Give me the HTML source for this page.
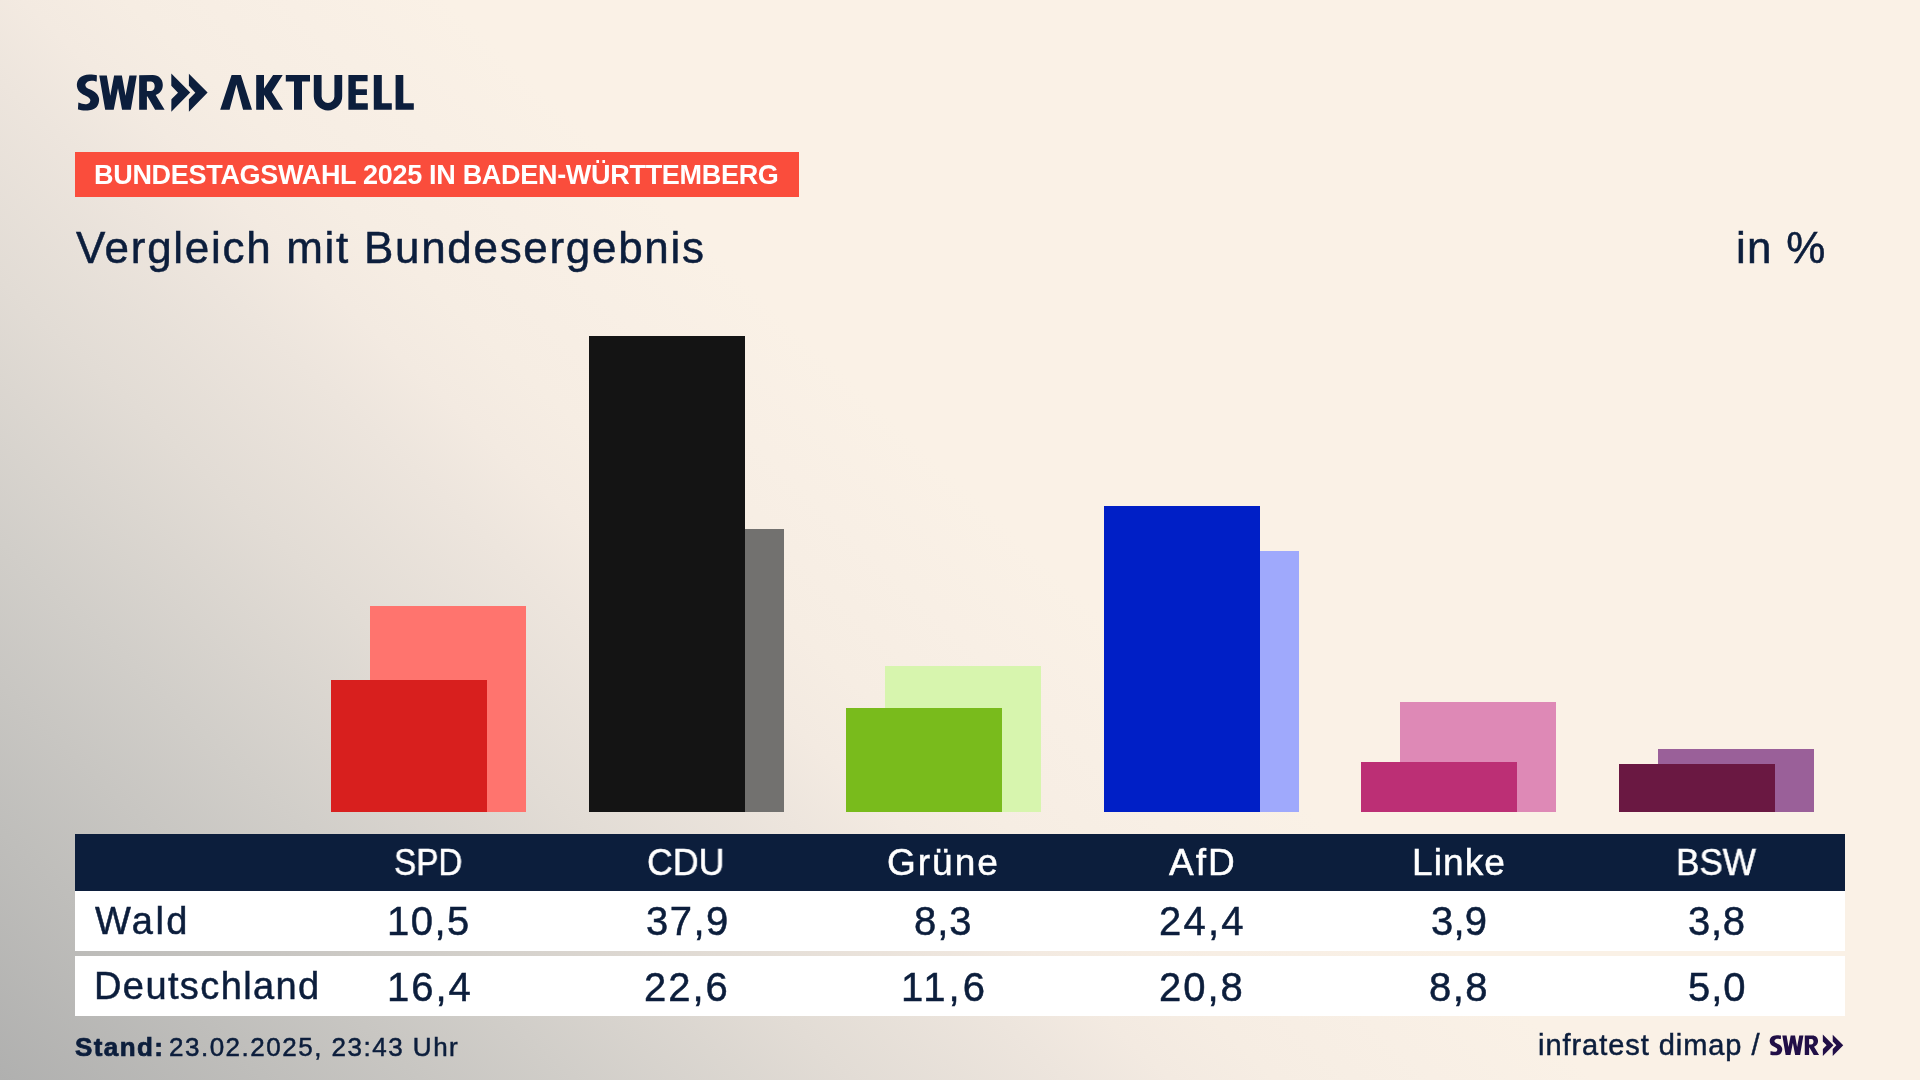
<!DOCTYPE html>
<html lang="de">
<head>
<meta charset="utf-8">
<title>Vergleich mit Bundesergebnis</title>
<style>
html,body{margin:0;padding:0;}
body{width:1920px;height:1080px;overflow:hidden;position:relative;background:#faf1e6;font-family:"Liberation Sans",sans-serif;color:#0c1e3c;}
#bg{position:absolute;left:0;top:0;width:1920px;height:1080px;background:linear-gradient(43.2deg,#b0b0af 0%,#bfbebb 8.67%,#d1cec9 18.73%,#e2dcd5 27.75%,#ede5dd 34.7%,#f3eae1 38.16%,#f6ede3 41.6%,#f8efe5 46.8%,#faf1e6 52%);}
.abs{position:absolute;}
.t{position:absolute;white-space:nowrap;-webkit-text-stroke:0.5px;will-change:transform;}
#bannertxt{-webkit-text-stroke:0;}
#banner{left:75px;top:152px;width:724px;height:45px;background:#fa4d3c;}
.bar{position:absolute;width:156px;}
#thead{left:75px;top:834px;width:1770px;height:57px;background:#0c1e3c;}
.row{position:absolute;left:75px;width:1770px;height:60px;background:#fff;}
</style>
</head>
<body>
<div id="bg"></div>
<svg class="abs" style="left:0;top:0" width="1920" height="1080" viewBox="0 0 1920 1080">
<defs>
<g id="swr">
<path d="M96.89,75.30 L96.69,81.61 C95.90,81.48 93.46,80.83 92.00,80.80 C90.54,80.76 88.98,80.90 87.93,81.41 C86.87,81.92 86.09,83.14 85.69,83.85 C85.28,84.57 85.24,85.01 85.48,85.69 C85.72,86.36 85.89,87.08 87.11,87.93 C88.33,88.78 91.19,89.76 92.82,90.78 C94.44,91.80 95.86,92.75 96.89,94.04 C97.92,95.33 98.74,96.96 99.01,98.52 C99.28,100.08 99.01,101.91 98.52,103.41 C98.03,104.90 97.16,106.43 96.07,107.48 C94.99,108.53 93.63,109.23 92.00,109.72 C90.37,110.21 88.06,110.35 86.30,110.42 C84.53,110.48 82.80,110.28 81.41,110.13 C80.02,109.98 78.52,109.62 77.94,109.52 L78.35,102.59 C79.00,102.80 80.90,103.56 82.22,103.82 C83.55,104.07 85.14,104.28 86.30,104.14 C87.45,104.01 88.47,103.60 89.15,103.00 C89.83,102.40 90.30,101.30 90.37,100.56 C90.44,99.81 90.10,99.20 89.56,98.52 C89.01,97.84 88.33,97.23 87.11,96.48 C85.89,95.74 83.65,94.99 82.22,94.04 C80.80,93.09 79.44,92.07 78.56,90.78 C77.67,89.49 77.13,87.79 76.93,86.30 C76.72,84.80 76.86,83.24 77.33,81.82 C77.81,80.39 78.69,78.79 79.78,77.74 C80.86,76.69 82.22,76.02 83.85,75.50 C85.48,74.98 87.38,74.64 89.56,74.60 C91.73,74.57 95.67,75.18 96.89,75.30 Z"/>
<polygon points="99.26,75.4 106.8,75.4 110.26,95.67 114.13,75.4 121.87,75.4 125.54,95.67 129.4,75.4 136.74,75.4 130.83,109.75 122.07,109.75 118,88.33 113.72,109.75 105.17,109.75"/>
<path fill-rule="evenodd" d="M139.17,75.3 L152.8,75.1 C158.6,75.1 162.8,79 162.8,85 C162.8,90 160,93.3 155.7,95.1 L164.6,109.75 L155.1,109.75 L147.5,96.5 L146.9,96.5 L146.9,109.75 L139.17,109.75 Z M146.9,81.6 L151,81.6 C153.5,81.6 154.7,83.8 154.7,86.3 C154.7,89 153,91.1 150.5,91.1 L146.9,91.1 Z"/>
<polygon points="171.3,73.5 190.2,92.45 171.3,111.8 171.4,99.3 178,92.65 171.3,85.8"/>
<polygon points="188.9,73.7 207.6,92.45 188.9,111.8 188.9,99.3 195.3,92.65 188.9,85.8"/>
</g>
</defs>
<g fill="#0c1e3c">
<use href="#swr"/>
<polygon points="231.6,75 240.9,75 252,109.8 243.1,109.8 236.4,84.5 229.6,109.8 220.2,109.8"/>
<polygon points="256.2,75 264,75 264,88.4 273.1,75 282.7,75 271.8,92 283.1,109.8 273.6,109.8 264,94.7 264,109.8 256.2,109.8"/>
<polygon points="285.8,75 310,75 310,81.6 302,81.6 302,109.8 294,109.8 294,81.6 285.8,81.6"/>
<path d="M313.8,75 h7.8 v21.5 a6.4,6.4 0 0 0 12.8,0 v-21.5 h7.8 v21.2 a14.2,14.2 0 0 1 -28.4,0 z"/>
<polygon points="348.4,75 367.6,75 367.6,81.3 355.8,81.3 355.8,89.3 366.9,89.3 366.9,95.1 355.8,95.1 355.8,103.3 367.8,103.3 367.8,109.8 348.4,109.8"/>
<polygon points="373.8,75 381.8,75 381.8,103.3 391.8,103.3 391.8,109.8 373.8,109.8"/>
<polygon points="395.6,75 403.3,75 403.3,103.3 413.8,103.3 413.8,109.8 395.6,109.8"/>
</g>
<g fill="#210f47" transform="translate(1726.5,993.2) scale(0.5624)"><use href="#swr"/></g>
</svg>
<div id="banner" class="abs"></div>
<div class="bar" style="left:370px;top:606px;height:206px;background:#ff746e"></div>
<div class="bar" style="left:331px;top:680px;height:132px;background:#d81f1e"></div>
<div class="bar" style="left:628px;top:529px;height:283px;background:#72716f"></div>
<div class="bar" style="left:589px;top:336px;height:476px;background:#141414"></div>
<div class="bar" style="left:885px;top:666px;height:146px;background:#d7f5ae"></div>
<div class="bar" style="left:846px;top:708px;height:104px;background:#79bb1c"></div>
<div class="bar" style="left:1143px;top:551px;height:261px;background:#9fa9fc"></div>
<div class="bar" style="left:1104px;top:506px;height:306px;background:#001fc6"></div>
<div class="bar" style="left:1400px;top:702px;height:110px;background:#de89b6"></div>
<div class="bar" style="left:1361px;top:762px;height:50px;background:#bc2f75"></div>
<div class="bar" style="left:1658px;top:749px;height:63px;background:#9a6099"></div>
<div class="bar" style="left:1619px;top:764px;height:48px;background:#6a1842"></div>

<div id="thead" class="abs"></div>
<div class="row" style="top:891px"></div>
<div class="row" style="top:956px"></div>
<div class="t" id="bannertxt" style="left:94.2px;top:157.64px;font-size:27px;line-height:35px;letter-spacing:-0.3px;color:#fff;font-weight:bold;">BUNDESTAGSWAHL 2025 IN BADEN-WÜRTTEMBERG</div>
<div class="t" id="title" style="left:76px;top:222.45px;font-size:44px;line-height:52px;letter-spacing:1.7px;">Vergleich mit Bundesergebnis</div>
<div class="t" id="unit" style="left:1736px;top:222.45px;font-size:44px;line-height:52px;letter-spacing:1.3px;">in %</div>
<div class="t" id="h1" style="left:394.1px;top:840.38px;font-size:37px;line-height:45px;letter-spacing:0px;color:#fff;transform:scaleX(0.9);transform-origin:0 0;">SPD</div>
<div class="t" id="h2" style="left:646.9px;top:840.38px;font-size:37px;line-height:45px;letter-spacing:0px;color:#fff;transform:scaleX(0.965);transform-origin:0 0;">CDU</div>
<div class="t" id="h3" style="left:887px;top:840.38px;font-size:37px;line-height:45px;letter-spacing:2px;color:#fff;">Grüne</div>
<div class="t" id="h4" style="left:1169px;top:840.38px;font-size:37px;line-height:45px;letter-spacing:2px;color:#fff;">AfD</div>
<div class="t" id="h5" style="left:1412px;top:840.38px;font-size:37px;line-height:45px;letter-spacing:1.1px;color:#fff;">Linke</div>
<div class="t" id="h6" style="left:1676px;top:840.38px;font-size:37px;line-height:45px;letter-spacing:0px;color:#fff;transform:scaleX(0.948);transform-origin:0 0;">BSW</div>
<div class="t" id="r1" style="left:95px;top:897.53px;font-size:38px;line-height:46px;letter-spacing:2.4px;">Wald</div>
<div class="t" id="r2" style="left:93.5px;top:963.33px;font-size:38px;line-height:46px;letter-spacing:1.4px;">Deutschland</div>
<div class="t" id="a1" style="left:386.8px;top:897.04px;font-size:40px;line-height:48px;letter-spacing:1.5px;">10,5</div>
<div class="t" id="a2" style="left:645.6px;top:897.04px;font-size:40px;line-height:48px;letter-spacing:1.5px;">37,9</div>
<div class="t" id="a3" style="left:914.25px;top:897.04px;font-size:40px;line-height:48px;letter-spacing:1.0px;">8,3</div>
<div class="t" id="a4" style="left:1159.3px;top:897.04px;font-size:40px;line-height:48px;letter-spacing:2.2px;">24,4</div>
<div class="t" id="a5" style="left:1431.2px;top:897.04px;font-size:40px;line-height:48px;letter-spacing:0.2px;">3,9</div>
<div class="t" id="a6" style="left:1688.1px;top:897.04px;font-size:40px;line-height:48px;letter-spacing:0.7px;">3,8</div>
<div class="t" id="b1" style="left:386.8px;top:962.94px;font-size:40px;line-height:48px;letter-spacing:2px;">16,4</div>
<div class="t" id="b2" style="left:644px;top:962.94px;font-size:40px;line-height:48px;letter-spacing:2px;">22,6</div>
<div class="t" id="b3" style="left:901.4px;top:962.94px;font-size:40px;line-height:48px;letter-spacing:3px;">11,6</div>
<div class="t" id="b4" style="left:1159.25px;top:962.94px;font-size:40px;line-height:48px;letter-spacing:2px;">20,8</div>
<div class="t" id="b5" style="left:1429.25px;top:962.94px;font-size:40px;line-height:48px;letter-spacing:1.5px;">8,8</div>
<div class="t" id="b6" style="left:1688.2px;top:962.94px;font-size:40px;line-height:48px;letter-spacing:1px;">5,0</div>
<div class="t" id="stand" style="left:75px;top:1030.19px;font-size:26px;line-height:34px;letter-spacing:1.4px;font-weight:bold;-webkit-text-stroke:0.7px;">Stand:</div>
<div class="t" id="date" style="left:169px;top:1030.19px;font-size:26px;line-height:34px;letter-spacing:1.5px;">23.02.2025, 23:43 Uhr</div>
<div class="t" id="src" style="left:1538px;top:1026.95px;font-size:29px;line-height:37px;letter-spacing:0.95px;">infratest dimap /</div>
</body>
</html>
